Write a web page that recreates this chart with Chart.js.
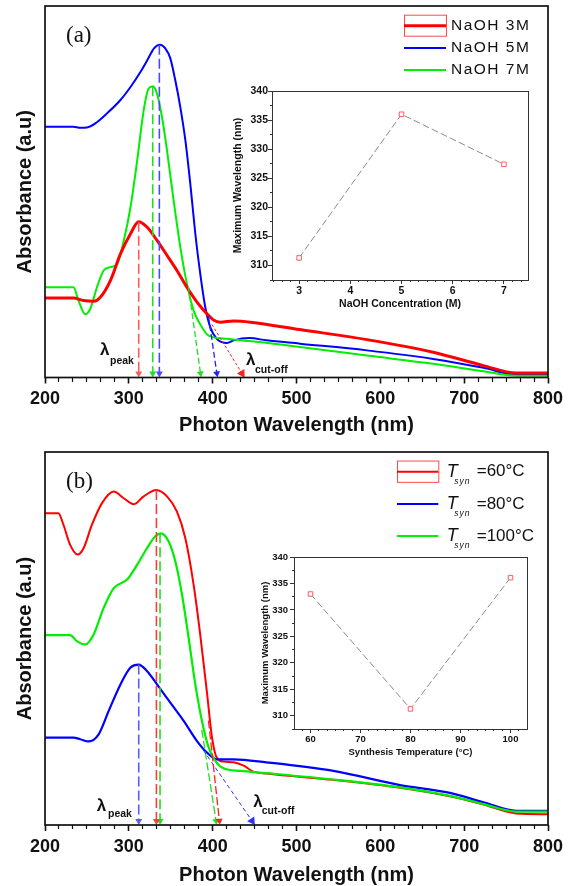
<!DOCTYPE html>
<html>
<head>
<meta charset="utf-8">
<title>Absorbance spectra</title>
<script src="https://cdn.jsdelivr.net/npm/chart.js@4.4.1/dist/chart.umd.min.js"></script>
<style>
  html, body { margin: 0; padding: 0; background: #fff; }
  #wrap { position: relative; width: 574px; height: 886px; overflow: hidden; }
  canvas { position: absolute; }
</style>
</head>
<body>
<div id="wrap">
  <canvas id="mainA" width="574" height="443" style="left:0;top:0"></canvas>
  <canvas id="mainB" width="574" height="443" style="left:0;top:443px"></canvas>
  <canvas id="insetA" width="310" height="230" style="left:228px;top:84px"></canvas>
  <canvas id="insetB" width="290" height="220" style="left:248px;top:548px"></canvas>
</div>
<script>
// ---- panel (a): NaOH concentration ----
const wlA3 = [200, 234, 246, 258, 266, 278, 290, 302, 311.7, 321.6, 333.6, 345.5, 357.4, 369.3, 381.3, 393, 401, 409, 425, 445, 504, 584, 663, 723, 762, 800];
const absA3 = [21.4, 21.4, 20.7, 20.5, 21.6, 26.1, 33.3, 38.7, 41.9, 40.5, 36.9, 32.9, 28.8, 24.3, 20.3, 17.2, 15.5, 14.9, 15.2, 14.9, 12.9, 10.2, 6.8, 3.2, 1.2, 1.2];
const wlA5 = [200, 234, 242, 250, 260, 274, 290, 302, 314, 322, 330, 337, 343.5, 349.5, 355.4, 361.4, 367.4, 373.3, 379.3, 385.2, 391.2, 397.2, 405, 417, 425, 444, 464, 504, 584, 663, 723, 762, 800];
const absA5 = [67.5, 67.5, 67.2, 67.3, 68.4, 71.1, 74.7, 78.2, 82.3, 85.4, 88.6, 89.6, 88.6, 85.9, 80.0, 72.8, 63.9, 52.2, 38.7, 27.9, 18.9, 13.5, 10.4, 9.3, 10.0, 10.6, 10.0, 9.1, 7.3, 5.0, 2.6, 0.8, 0.8];
const wlA7 = [200, 234, 240, 248, 254, 262, 270, 278, 286, 294, 302, 310, 317.7, 323.6, 328.8, 333.6, 339.5, 345.5, 353.4, 361.4, 369.3, 377.3, 385.2, 393.2, 401, 417, 444, 504, 584, 663, 723, 762, 800];
const absA7 = [24.3, 24.3, 20.7, 17.0, 18.5, 24.3, 28.8, 29.7, 30.6, 36.9, 45.9, 58.5, 71.9, 77.8, 78.4, 76.4, 70.2, 61.2, 47.7, 35.1, 25.2, 18.0, 14.3, 11.6, 10.8, 10.4, 9.8, 8.2, 5.9, 3.7, 1.7, 0.5, 0.5];

// peak markers and cut-off tangents, order 3M, 5M, 7M
const peakWlA = [311.8, 336.4, 328.5];
const peakAbsA = [41.9, 89.6, 78.4];
const cutStartWlA = [399, 395, 371];
const cutStartAbsA = [14.3, 16.5, 24.5];
const cutEndWlA = [435, 405, 385.5];

// ---- panel (b): synthesis temperature ----
const wlB60 = [200, 216, 222, 230, 239, 246, 256, 268, 282, 294, 306, 317.7, 332.8, 345.5, 357.4, 367.4, 377.3, 385.2, 393.2, 399.2, 405, 413, 425, 437, 448.5, 464, 544, 623.5, 683, 723, 762, 800];
const absB60 = [83.6, 83.6, 80.5, 75.1, 72.5, 74.2, 80.5, 86.3, 89.4, 87.6, 86.0, 88.1, 89.8, 88.1, 84.0, 76.9, 64.4, 51.0, 35.5, 23.5, 18.0, 17.0, 16.8, 15.9, 14.3, 13.8, 12.1, 10.0, 7.7, 5.5, 3.1, 2.9];
const wlB80 = [200, 234, 242, 252, 264, 276, 290, 302, 311.7, 321.6, 333.6, 349.5, 365.4, 381.3, 393.2, 405, 425, 464, 544, 623.5, 683, 723, 762, 800];
const absB80 = [23.4, 23.4, 23.0, 22.4, 24.3, 30.6, 37.7, 42.2, 43.0, 41.3, 37.7, 32.8, 27.9, 22.5, 19.4, 17.6, 17.6, 16.8, 14.5, 10.7, 8.6, 6.1, 3.8, 3.8];
const wlB100 = [200, 230, 238, 248, 258, 270, 282, 298, 310, 321.6, 331.6, 338.3, 347.5, 355.4, 363.4, 371.3, 379.3, 387.2, 395.2, 403.1, 413, 433, 464, 544, 623.5, 683, 723, 762, 800];
const absB100 = [50.9, 50.9, 49.3, 48.4, 51.1, 58.2, 63.5, 65.8, 69.8, 74.2, 77.4, 78.2, 76.0, 70.7, 61.8, 50.2, 37.7, 27.9, 20.8, 17.2, 15.2, 14.5, 13.9, 12.2, 10.1, 7.8, 5.6, 3.6, 3.6];

// order 60, 80, 100 C
const peakWlB = [332.9, 311.8, 337.2];
const peakAbsB = [89.8, 43.0, 78.2];
const cutStartWlB = [395, 389, 387];
const cutStartAbsB = [28, 20, 25.5];
const cutEndWlB = [408, 447, 404];

// ---- insets ----
const naohConc = [3, 5, 7];
const peakByConc = [311.3, 336.0, 327.4];
const synTemp = [60, 80, 100];
const peakByTemp = [333.0, 311.3, 336.1];

const ARROW_END = 1.1;
const FONT = '"Liberation Sans", Arial, sans-serif';
const INK = '#111';
const RED = '#ff0000', BLUE = '#0000ff', GREEN = '#00ee00';

Chart.defaults.font.family = FONT;
Chart.defaults.color = INK;

function isMultiple(v, step) {
  return Math.abs(v / step - Math.round(v / step)) < 1e-6;
}

function tickRange(base, step, min, max) {
  const out = [];
  const k0 = Math.ceil((min - base) / step - 1e-9);
  const k1 = Math.floor((max - base) / step + 1e-9);
  for (let k = k0; k <= k1; k++) out.push({ value: base + k * step });
  return out;
}

function spectrum(wl, ab) {
  return wl.map((x, i) => ({ x: x, y: ab[i] }));
}

function curve(label, wl, ab, color, width, order) {
  return {
    label: label,
    data: spectrum(wl, ab),
    borderColor: color,
    borderWidth: width,
    pointRadius: 0,
    cubicInterpolationMode: 'monotone',
    order: order
  };
}

// dashed guide line ending in a triangular arrow head
function arrow(x1, y1, x2, y2, style) {
  return {
    data: [{ x: x1, y: y1 }, { x: x2, y: y2 }],
    borderColor: style.color,
    borderWidth: style.width,
    borderDash: style.dash,
    pointStyle: 'triangle',
    pointRadius: [0, style.head],
    pointBackgroundColor: style.color,
    pointBorderWidth: 0,
    pointRotation: ctx => {
      const sx = ctx.chart.scales.x, sy = ctx.chart.scales.y;
      const dx = sx.getPixelForValue(x2) - sx.getPixelForValue(x1);
      const dy = sy.getPixelForValue(y2) - sy.getPixelForValue(y1);
      return Math.atan2(dx, -dy) * 180 / Math.PI;
    },
    order: 0
  };
}

function framePlugin(tag, dx, dy) {
  return {
    id: 'frame',
    afterDraw(chart) {
      const { ctx, chartArea: a } = chart;
      ctx.save();
      ctx.strokeStyle = INK;
      ctx.lineWidth = 1.7;
      ctx.strokeRect(a.left, a.top, a.right - a.left, a.bottom - a.top);
      ctx.font = '23px "Liberation Serif", "Times New Roman", serif';
      ctx.fillStyle = INK;
      ctx.textBaseline = 'middle';
      ctx.fillText(tag, a.left + dx, a.top + dy);
      ctx.restore();
    }
  };
}

function keyPlugin(k) {
  return {
    id: 'seriesKey',
    afterDraw(chart) {
      const ctx = chart.ctx;
      ctx.save();
      ctx.textBaseline = 'middle';
      ctx.textAlign = 'left';
      k.items.forEach((it, i) => {
        const y = k.y + i * k.gap;
        if (it.box) {
          ctx.strokeStyle = '#ff4a4a';
          ctx.lineWidth = 1;
          ctx.strokeRect(k.x0 + 0.5, y - k.boxH / 2, k.x1 - k.x0, k.boxH);
        }
        ctx.strokeStyle = it.color;
        ctx.lineWidth = it.width;
        ctx.beginPath();
        ctx.moveTo(k.x0, y);
        ctx.lineTo(k.x1, y);
        ctx.stroke();
        ctx.fillStyle = INK;
        let x = k.tx;
        if (it.sym) {
          ctx.font = 'italic 18px ' + FONT;
          ctx.fillText(it.sym, x, y);
          ctx.font = 'italic 8.5px ' + FONT;
          ctx.letterSpacing = '1px';
          ctx.fillText(it.sub, x + 7.5, y + 10);
          x += 30;
        }
        ctx.font = k.font;
        ctx.letterSpacing = k.spacing;
        ctx.fillText(it.text, x, y);
        ctx.letterSpacing = '0px';
      });
      ctx.restore();
    }
  };
}

function notesPlugin(notes) {
  return {
    id: 'lambdaNotes',
    afterDatasetsDraw(chart) {
      const { ctx, scales: { x, y } } = chart;
      ctx.save();
      ctx.fillStyle = INK;
      ctx.textBaseline = 'middle';
      notes.forEach(n => {
        const px = x.getPixelForValue(n.wl), py = y.getPixelForValue(n.ab);
        ctx.font = 'bold 17px ' + FONT;
        ctx.fillText('\u03bb', px, py);
        ctx.font = 'bold 10.5px ' + FONT;
        ctx.fillText(n.sub, px + n.dx, py + n.dy);
      });
      ctx.restore();
    }
  };
}

function wavelengthAxis(height, titleLH, titlePad) {
  return {
    type: 'linear',
    min: 200,
    max: 800,
    afterBuildTicks: s => { s.ticks = tickRange(200, 100 / 6, 200, 800); },
    afterFit: s => { s.height = height; },
    ticks: {
      autoSkip: false,
      maxRotation: 0,
      padding: 5,
      color: INK,
      font: { size: 18, weight: 'bold' },
      callback: v => isMultiple(v, 100) ? String(Math.round(v)) : ''
    },
    grid: {
      drawOnChartArea: false,
      tickLength: 6,
      tickColor: INK,
      tickWidth: c => (c.tick && isMultiple(c.tick.value, 100)) ? 1.6 : 1.2,
      tickBorderDash: c => (c.tick && isMultiple(c.tick.value, 100)) ? [] : [4, 20]
    },
    border: { display: false },
    title: {
      display: true,
      text: 'Photon Wavelength (nm)',
      color: INK,
      font: { size: 20, weight: 'bold', lineHeight: titleLH },
      padding: { top: 0, bottom: titlePad }
    }
  };
}

function absorbanceAxis() {
  return {
    min: 0,
    max: 100,
    afterFit: s => { s.width = 45; },
    ticks: { display: false },
    grid: { display: false },
    border: { display: false },
    title: {
      display: true,
      text: 'Absorbance (a.u)',
      color: INK,
      font: { size: 20, weight: 'bold', lineHeight: 1.2 },
      padding: { top: 13, bottom: 0 }
    }
  };
}

function spectrumChart(id, datasets, top, xHeight, titleLH, titlePad, plugins) {
  return new Chart(document.getElementById(id), {
    type: 'line',
    data: { datasets: datasets },
    options: {
      responsive: false,
      animation: false,
      events: [],
      layout: { padding: { left: 0, right: 26, top: top, bottom: 0 } },
      scales: { x: wavelengthAxis(xHeight, titleLH, titlePad), y: absorbanceAxis() },
      plugins: { legend: { display: false }, tooltip: { enabled: false } }
    },
    plugins: plugins
  });
}

// ---- panel (a) ----
const guideA = [
  { color: '#ff5a5a', width: 1.6, dash: [10, 4], head: 4 },
  { color: '#4a4aff', width: 1.6, dash: [10, 4], head: 4 },
  { color: '#22dd22', width: 1.6, dash: [10, 4], head: 4 }
];
const tangentA = [
  { color: '#ff2020', width: 1, dash: [3, 2], head: 5 },
  { color: '#2020ff', width: 1.3, dash: [6, 3], head: 4 },
  { color: '#22dd22', width: 1.3, dash: [6, 3], head: 4 }
];
const setsA = [
  curve('NaOH 3M', wlA3, absA3, RED, 3, 1),
  curve('NaOH 5M', wlA5, absA5, BLUE, 2, 3),
  curve('NaOH 7M', wlA7, absA7, GREEN, 2, 2)
];
peakWlA.forEach((w, i) => setsA.push(arrow(w, peakAbsA[i], w, ARROW_END, guideA[i])));
cutStartWlA.forEach((w, i) => setsA.push(arrow(w, cutStartAbsA[i], cutEndWlA[i], ARROW_END, tangentA[i])));

spectrumChart('mainA', setsA, 6, 65.5, 1.2, 6, [
  framePlugin('(a)', 21, 29.5),
  keyPlugin({
    x0: 404, x1: 446, y: 25.7, gap: 22.2, tx: 451, boxH: 21,
    font: '15.5px ' + FONT, spacing: '1.5px',
    items: [
      { color: RED, width: 3, box: true, text: 'NaOH 3M' },
      { color: BLUE, width: 2, text: 'NaOH 5M' },
      { color: GREEN, width: 2, text: 'NaOH 7M' }
    ]
  }),
  notesPlugin([
    { wl: 265.6, ab: 7.3, sub: 'peak', dx: 10, dy: 10.5 },
    { wl: 439.8, ab: 4.6, sub: 'cut-off', dx: 9, dy: 9.3 }
  ])
]);

// ---- panel (b) ----
const guideB = [
  { color: '#ff3a3a', width: 1.6, dash: [10, 4], head: 4 },
  { color: '#5a5aff', width: 1.6, dash: [10, 4], head: 4 },
  { color: '#22dd22', width: 1.6, dash: [10, 4], head: 4 }
];
const tangentB = [
  { color: '#ff2020', width: 1.3, dash: [8, 3], head: 4 },
  { color: '#3030ff', width: 1, dash: [4, 3], head: 5 },
  { color: '#22dd22', width: 1.3, dash: [8, 3], head: 4 }
];
const setsB = [
  curve('60', wlB60, absB60, RED, 2, 3),
  curve('80', wlB80, absB80, BLUE, 2.2, 2),
  curve('100', wlB100, absB100, GREEN, 2.2, 1)
];
peakWlB.forEach((w, i) => setsB.push(arrow(w, peakAbsB[i], w, ARROW_END, guideB[i])));
cutStartWlB.forEach((w, i) => setsB.push(arrow(w, cutStartAbsB[i], cutEndWlB[i], ARROW_END, tangentB[i])));

spectrumChart('mainB', setsB, 9, 61, 1.1, 0, [
  framePlugin('(b)', 21, 30),
  keyPlugin({
    x0: 397, x1: 438.3, y: 28.7, gap: 32.2, tx: 446.7, boxH: 21.3,
    font: '17px ' + FONT, spacing: '0px',
    items: [
      { color: RED, width: 2, box: true, sym: 'T', sub: 'syn', text: '=60\u00b0C' },
      { color: BLUE, width: 2, sym: 'T', sub: 'syn', text: '=80\u00b0C' },
      { color: GREEN, width: 2, sym: 'T', sub: 'syn', text: '=100\u00b0C' }
    ]
  }),
  notesPlugin([
    { wl: 261.7, ab: 5.1, sub: 'peak', dx: 11.3, dy: 8.3 },
    { wl: 448.5, ab: 6.0, sub: 'cut-off', dx: 8.4, dy: 8.5 }
  ])
]);

// ---- insets ----
const insetFrame = {
  id: 'insetFrame',
  afterDraw(chart) {
    const { ctx, chartArea: a } = chart;
    ctx.save();
    ctx.strokeStyle = '#333';
    ctx.lineWidth = 1;
    ctx.strokeRect(a.left + 0.5, a.top + 0.5, a.right - a.left, a.bottom - a.top);
    ctx.restore();
  }
};

function insetChart(id, xs, ys, o) {
  const small = { size: o.fontSize, weight: 'bold', lineHeight: 1.2 };
  return new Chart(document.getElementById(id), {
    type: 'line',
    data: {
      datasets: [{
        data: xs.map((x, i) => ({ x: x, y: ys[i] })),
        borderColor: '#8a8a8a',
        borderWidth: 1,
        borderDash: [7, 3],
        pointStyle: 'rect',
        pointRadius: 3.2,
        pointBorderColor: '#ff5c5c',
        pointBackgroundColor: '#ffffff',
        pointBorderWidth: 1
      }]
    },
    options: {
      responsive: false,
      animation: false,
      events: [],
      layout: { padding: { left: 0, right: o.right, top: o.top, bottom: 0 } },
      scales: {
        x: {
          type: 'linear',
          min: o.xMin,
          max: o.xMax,
          afterBuildTicks: s => { s.ticks = tickRange(o.xBase, o.xStep / 6, o.xMin, o.xMax); },
          afterFit: s => { s.height = o.xH; },
          ticks: {
            autoSkip: false, maxRotation: 0, padding: o.xPad, color: INK, font: small,
            callback: v => isMultiple(v - o.xBase, o.xStep) ? String(Math.round(v)) : ''
          },
          grid: {
            drawOnChartArea: false, tickLength: 4, tickColor: '#333', tickWidth: 1,
            tickBorderDash: c => (c.tick && isMultiple(c.tick.value - o.xBase, o.xStep)) ? [] : [2, 10]
          },
          border: { display: false },
          title: { display: true, text: o.xTitle, color: INK, font: small, padding: { top: 0, bottom: o.xTitlePad } }
        },
        y: {
          min: 307.5,
          max: 340,
          afterBuildTicks: s => { s.ticks = tickRange(310, 2.5, 307.5, 340); },
          afterFit: s => { s.width = o.yW; },
          ticks: {
            autoSkip: false, padding: o.yPad, color: INK, font: small,
            callback: v => isMultiple(v, 5) ? String(Math.round(v)) : ''
          },
          grid: {
            drawOnChartArea: false, tickLength: 4, tickColor: '#333', tickWidth: 1,
            tickBorderDash: c => (c.tick && isMultiple(c.tick.value, 5)) ? [] : [2, 2],
            tickBorderDashOffset: c => (c.tick && isMultiple(c.tick.value, 5)) ? 0 : 2
          },
          border: { display: false },
          title: { display: true, text: 'Maximum Wavelength (nm)', color: INK, font: small, padding: { top: o.yTitlePad, bottom: 0 } }
        }
      },
      plugins: { legend: { display: false }, tooltip: { enabled: false } }
    },
    plugins: [insetFrame]
  });
}

insetChart('insetA', naohConc, peakByConc, {
  fontSize: 10.5, top: 7, right: 10, xH: 34, yW: 44,
  xMin: 2.47, xMax: 7.47, xBase: 3, xStep: 1,
  xPad: 1, yPad: 0, xTitlePad: 4, yTitlePad: 4,
  xTitle: 'NaOH Concentration (M)'
});

insetChart('insetB', synTemp, peakByTemp, {
  fontSize: 9.5, top: 9, right: 11, xH: 39, yW: 46,
  xMin: 56.7, xMax: 103.3, xBase: 60, xStep: 10,
  xPad: 0.6, yPad: 2, xTitlePad: 10.3, yTitlePad: 11.5,
  xTitle: 'Synthesis Temperature (\u00b0C)'
});
</script>
</body>
</html>
